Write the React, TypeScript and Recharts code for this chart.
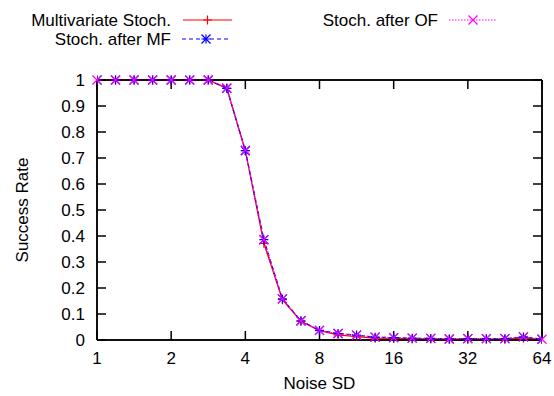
import React from 'react';
import { LineChart, Line, XAxis, YAxis, CartesianGrid } from 'recharts';

const noiseSD = [1, 1.189, 1.414, 1.682, 2, 2.378, 2.828, 3.364, 4, 4.757, 5.657, 6.727, 8, 9.514, 11.31, 13.45, 16, 19.03, 22.63, 26.91, 32, 38.05, 45.25, 53.82, 64];
const multivariate = [1, 1, 1, 1, 1, 1, 1, 0.968, 0.728, 0.372, 0.155, 0.072, 0.036, 0.02, 0.013, 0.007, 0.006, 0.004, 0.004, 0.003, 0.003, 0.003, 0.003, 0.008, 0.002];
const afterMF = [1, 1, 1, 1, 1, 1, 1, 0.968, 0.728, 0.386, 0.158, 0.074, 0.037, 0.025, 0.019, 0.011, 0.009, 0.007, 0.006, 0.004, 0.005, 0.005, 0.005, 0.012, 0.003];
const afterOF = [1, 1, 1, 1, 1, 1, 1, 0.97, 0.73, 0.385, 0.158, 0.073, 0.037, 0.025, 0.019, 0.011, 0.009, 0.007, 0.006, 0.004, 0.005, 0.005, 0.005, 0.012, 0.003];

const xTicks = [1, 2, 4, 8, 16, 32, 64];
const yTicks = [0, 0.1, 0.2, 0.3, 0.4, 0.5, 0.6, 0.7, 0.8, 0.9, 1];
const seriesNames = ['Multivariate Stoch.', 'Stoch. after MF', 'Stoch. after OF'];
const seriesColors = ['#ff0000', '#0000ff', '#ff00ff'];
const xLabel = 'Noise SD';
const yLabel = 'Success Rate';

const data = noiseSD.map((x, i) => ({ x, mv: multivariate[i], mf: afterMF[i], of: afterOF[i] }));

const TICK_PX = 9;
const FONT = '"Liberation Sans", Arial, Helvetica, sans-serif';
const S = 4.5;

type MP = { cx: number; cy: number; color: string };
const PlusMark = ({ cx, cy, color }: MP) => (
  <path d={`M${cx - S},${cy}H${cx + S}M${cx},${cy - S}V${cy + S}`} stroke={color} strokeWidth={1.2} fill="none" />
);
const CrossMark = ({ cx, cy, color }: MP) => (
  <path d={`M${cx - S},${cy - S}L${cx + S},${cy + S}M${cx - S},${cy + S}L${cx + S},${cy - S}`} stroke={color} strokeWidth={1.2} fill="none" />
);
const StarMark = ({ cx, cy, color }: MP) => (
  <g>
    <PlusMark cx={cx} cy={cy} color={color} />
    <CrossMark cx={cx} cy={cy} color={color} />
  </g>
);
const marks = [PlusMark, StarMark, CrossMark];
const dashes = [undefined, '4 3', '1.5 1.5'];

const axisStyle = { stroke: '#000', strokeWidth: 1.5 };
const tickStyle = { fontSize: 17, fill: '#000', fontFamily: FONT };
const hiddenTick = { fontSize: 1, fill: 'transparent' };

function makeDot(idx: number) {
  const M = marks[idx];
  return (p: any) => {
    if (p.cx == null || p.cy == null) return <g key={`d${idx}-${p.index}`} />;
    return (
      <g key={`d${idx}-${p.index}`}>
        <M cx={p.cx} cy={p.cy} color={seriesColors[idx]} />
      </g>
    );
  };
}

const Legend = () => {
  const items = [
    { tx: 171, ty: 20, x1: 183, x2: 232 },
    { tx: 171, ty: 39, x1: 182, x2: 230 },
    { tx: 438, ty: 20, x1: 449, x2: 497 },
  ];
  return (
    <svg width={554} height={60} style={{ position: 'absolute', left: 0, top: 0 }}>
      {items.map((it, i) => {
        const M = marks[i];
        return (
          <g key={i}>
            <text x={it.tx} y={it.ty} textAnchor="end" dominantBaseline="central" fontSize={17} fontFamily={FONT} fill="#000">
              {seriesNames[i]}
            </text>
            <line x1={it.x1} x2={it.x2} y1={it.ty} y2={it.ty} stroke={seriesColors[i]} strokeWidth={1.2} strokeDasharray={dashes[i]} />
            <M cx={(it.x1 + it.x2) / 2} cy={it.ty} color={seriesColors[i]} />
          </g>
        );
      })}
    </svg>
  );
};

export default function App() {
  return (
    <div style={{ position: 'absolute', left: 0, top: 0, width: 554, height: 396, background: '#fff' }}>
      <LineChart width={554} height={396} data={data} margin={{ top: 79, right: 11, left: 0, bottom: 0 }}>
        <CartesianGrid
          stroke="#000"
          strokeWidth={1.5}
          horizontalCoordinatesGenerator={(p: any) => [p.offset.top, p.offset.top + p.offset.height]}
          verticalCoordinatesGenerator={(p: any) => [p.offset.left, p.offset.left + p.offset.width]}
        />
        <XAxis
          dataKey="x"
          type="number"
          scale="log"
          domain={[1, 64]}
          ticks={xTicks}
          allowDataOverflow
          height={56}
          tickSize={-TICK_PX}
          tickMargin={21}
          axisLine={axisStyle}
          tickLine={axisStyle}
          tick={tickStyle}
          label={{
            content: (props: any) => {
              const vb = props.viewBox;
              return (
                <text x={vb.x + vb.width / 2} y={vb.y + 43} textAnchor="middle" dominantBaseline="central" fontSize={17} fontFamily={FONT} fill="#000">
                  {xLabel}
                </text>
              );
            },
          }}
        />
        <XAxis
          xAxisId="top"
          dataKey="x"
          orientation="top"
          type="number"
          scale="log"
          domain={[1, 64]}
          ticks={xTicks}
          height={1}
          tickSize={-TICK_PX}
          tick={hiddenTick}
          axisLine={axisStyle}
          tickLine={axisStyle}
        />
        <YAxis
          type="number"
          domain={[0, 1]}
          ticks={yTicks}
          width={97}
          tickSize={-TICK_PX}
          tickMargin={21}
          axisLine={axisStyle}
          tickLine={axisStyle}
          tick={tickStyle}
          label={{
            content: (props: any) => {
              const vb = props.viewBox;
              const cx = vb.x + 22;
              const cy = vb.y + vb.height / 2;
              return (
                <text x={cx} y={cy} transform={`rotate(-90, ${cx}, ${cy})`} textAnchor="middle" dominantBaseline="central" fontSize={17} fontFamily={FONT} fill="#000">
                  {yLabel}
                </text>
              );
            },
          }}
        />
        <YAxis
          yAxisId="right"
          orientation="right"
          type="number"
          domain={[0, 1]}
          ticks={yTicks}
          width={1}
          tickSize={-TICK_PX}
          tick={hiddenTick}
          axisLine={axisStyle}
          tickLine={axisStyle}
        />
        <Line dataKey="mv" name={seriesNames[0]} stroke={seriesColors[0]} strokeWidth={1.3} dot={makeDot(0)} isAnimationActive={false} />
        <Line dataKey="mf" name={seriesNames[1]} stroke={seriesColors[1]} strokeWidth={1.2} strokeDasharray={dashes[1]} dot={makeDot(1)} isAnimationActive={false} />
        <Line xAxisId="top" yAxisId="right" dataKey="of" name={seriesNames[2]} stroke={seriesColors[2]} strokeWidth={1.2} strokeDasharray={dashes[2]} dot={makeDot(2)} isAnimationActive={false} />
      </LineChart>
      <Legend />
    </div>
  );
}
